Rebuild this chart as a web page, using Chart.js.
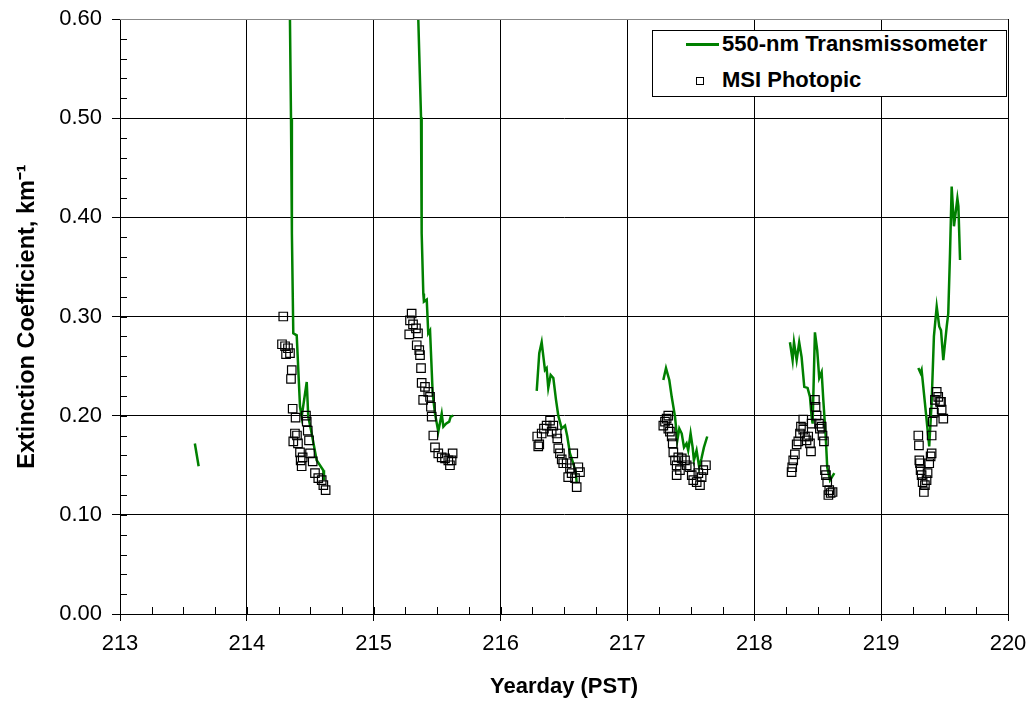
<!DOCTYPE html>
<html>
<head>
<meta charset="utf-8">
<title>Extinction Coefficient</title>
<script src="https://cdn.jsdelivr.net/npm/chart.js@4.4.1/dist/chart.umd.min.js"></script>
<style>
  body { margin: 0; background: #fff; }
  #wrap { position: relative; width: 1033px; height: 702px; }
  #legend {
    position: absolute; left: 652px; top: 30px; width: 355px; height: 67px;
    box-sizing: border-box; border: 1px solid #000; background: #fff;
    font: bold 22px 'Liberation Sans', Arial, sans-serif; color: #000;
  }
  #legend .row { position: absolute; left: 0; height: 26px; line-height: 26px; }
  #legend .txt { position: absolute; left: 69px; white-space: nowrap; }
  #legend .line { position: absolute; left: 33px; top: 12px; width: 33px; height: 3px; background: #008000; }
  #legend .sq { position: absolute; left: 43px; top: 10px; width: 6px; height: 6px; border: 1.3px solid #000; }
</style>
</head>
<body>
<div id="wrap">
  <canvas id="chart" width="1033" height="702"></canvas>
  <div id="legend">
    <div class="row" style="top:0px"><span class="line"></span><span class="txt" id="lab0"></span></div>
    <div class="row" style="top:36px"><span class="sq"></span><span class="txt" id="lab1"></span></div>
  </div>
</div>
<script>
const seriesNames = ["550-nm Transmissometer", "MSI Photopic"];

// 550-nm transmissometer, null marks a gap between daily runs
const transDay = [
  213.59, 213.62,
  213.9,
  214.338, 214.348, 214.355, 214.366, 214.393, 214.419, 214.432, 214.472, 214.484, 214.511, 214.55, 214.602, 214.608,
  214.9,
  215.347, 215.373, 215.378, 215.391, 215.396, 215.418, 215.43, 215.444, 215.465, 215.483, 215.509, 215.536, 215.549, 215.57, 215.595, 215.607, 215.627,
  215.9,
  216.285, 216.305, 216.324, 216.35, 216.363, 216.376, 216.395, 216.416, 216.437, 216.455, 216.482, 216.508, 216.526, 216.547, 216.573, 216.594, 216.6,
  216.9,
  217.283, 217.304, 217.33, 217.349, 217.375, 217.393, 217.409, 217.428, 217.446, 217.466, 217.479, 217.498, 217.514, 217.524, 217.545, 217.566, 217.584, 217.603, 217.629,
  217.9,
  218.281, 218.302, 218.313, 218.334, 218.354, 218.373, 218.394, 218.42, 218.439, 218.452, 218.46, 218.478, 218.496, 218.512, 218.531, 218.544, 218.563, 218.575, 218.597, 218.631,
  218.9,
  219.293, 219.311, 219.319, 219.345, 219.379, 219.398, 219.416, 219.438, 219.458, 219.472, 219.49, 219.517, 219.529, 219.543, 219.556, 219.574, 219.601, 219.609, 219.622
];
const transExt = [
  0.172, 0.149,
  null,
  0.62, 0.50, 0.384, 0.283, 0.281, 0.209, 0.199, 0.234, 0.199, 0.182, 0.155, 0.145, 0.135,
  null,
  0.62, 0.501, 0.384, 0.323, 0.315, 0.317, 0.283, 0.286, 0.222, 0.202, 0.184, 0.202, 0.189, 0.192, 0.194, 0.199, 0.200,
  null,
  0.225, 0.263, 0.274, 0.246, 0.248, 0.228, 0.241, 0.238, 0.216, 0.200, 0.187, 0.190, 0.179, 0.162, 0.152, 0.142, 0.132,
  null,
  0.236, 0.248, 0.236, 0.219, 0.199, 0.175, 0.187, 0.182, 0.168, 0.172, 0.165, 0.182, 0.168, 0.155, 0.165, 0.148, 0.157, 0.168, 0.179,
  null,
  0.274, 0.256, 0.274, 0.256, 0.274, 0.259, 0.229, 0.228, 0.219, 0.199, 0.192, 0.284, 0.266, 0.238, 0.244, 0.216, 0.179, 0.148, 0.135, 0.142,
  null,
  0.248, 0.243, 0.246, 0.213, 0.169, 0.213, 0.280, 0.310, 0.290, 0.286, 0.256, 0.290, 0.303, 0.364, 0.431, 0.391, 0.419, 0.411, 0.357
];

// MSI photopic
const msiDay = [
  214.287, 214.277, 214.301, 214.324, 214.340, 214.309, 214.354, 214.348, 214.361, 214.384, 214.379, 214.366, 214.403, 214.419,
  214.424, 214.432, 214.466, 214.472, 214.48, 214.49, 214.498, 214.519, 214.537, 214.563, 214.59, 214.603, 214.621, 214.395, 214.44,
  215.299, 215.286, 215.31, 215.333, 215.349, 215.28, 215.339, 215.359, 215.365, 215.373, 215.378, 215.404, 215.43, 215.444,
  215.39, 215.451, 215.457, 215.47, 215.483, 215.509, 215.536, 215.562, 215.588, 215.601, 215.622, 215.614,
  216.297, 216.305, 216.289, 216.324, 216.342, 216.363, 216.39, 216.416, 216.403, 216.442, 216.447, 216.455, 216.468, 216.482,
  216.494, 216.521, 216.547, 216.573, 216.56, 216.587, 216.613, 216.626, 216.6, 216.533,
  217.322, 217.309, 217.296, 217.283, 217.322, 217.335, 217.349, 217.357, 217.362, 217.375, 217.388, 217.401, 217.428, 217.414,
  217.388, 217.454, 217.467, 217.493, 217.507, 217.519, 217.546, 217.572, 217.585, 217.598, 217.619, 217.559,
  218.294, 218.299, 218.307, 218.32, 218.334, 218.347, 218.36, 218.368, 218.386, 218.386, 218.399, 218.412, 218.425, 218.439,
  218.447, 218.452, 218.478, 218.483, 218.491, 218.51, 218.517, 218.531, 218.538, 218.549, 218.557, 218.565, 218.575, 218.591,
  218.602, 218.617, 218.584,
  219.293, 219.298, 219.301, 219.306, 219.311, 219.319, 219.327, 219.337, 219.345, 219.358, 219.366, 219.379, 219.39, 219.398,
  219.398, 219.406, 219.416, 219.424, 219.438, 219.45, 219.464, 219.477, 219.49, 219.472
];
const msiExt = [
  0.300, 0.272, 0.270, 0.268, 0.263, 0.262, 0.246, 0.237, 0.207, 0.198, 0.182, 0.174, 0.172, 0.163,
  0.155, 0.149, 0.200, 0.194, 0.185, 0.175, 0.162, 0.154, 0.142, 0.137, 0.135, 0.130, 0.125, 0.180, 0.158,
  0.303, 0.296, 0.292, 0.288, 0.283, 0.282, 0.271, 0.266, 0.261, 0.248, 0.233, 0.229, 0.224, 0.219,
  0.216, 0.209, 0.199, 0.180, 0.168, 0.162, 0.158, 0.157, 0.155, 0.150, 0.162, 0.155,
  0.169, 0.171, 0.179, 0.182, 0.187, 0.190, 0.195, 0.190, 0.184, 0.182, 0.177, 0.167, 0.162, 0.156,
  0.152, 0.152, 0.147, 0.162, 0.142, 0.137, 0.148, 0.143, 0.128, 0.138,
  0.200, 0.197, 0.194, 0.190, 0.187, 0.184, 0.179, 0.172, 0.163, 0.155, 0.150, 0.158, 0.157, 0.145,
  0.140, 0.155, 0.150, 0.148, 0.140, 0.135, 0.133, 0.130, 0.138, 0.145, 0.150, 0.142,
  0.143, 0.148, 0.155, 0.161, 0.171, 0.174, 0.182, 0.189, 0.196, 0.186, 0.179, 0.175, 0.179, 0.172,
  0.164, 0.192, 0.216, 0.209, 0.200, 0.192, 0.187, 0.189, 0.180, 0.174, 0.145, 0.140, 0.133, 0.125,
  0.122, 0.123, 0.120,
  0.180, 0.170, 0.155, 0.152, 0.145, 0.140, 0.133, 0.123, 0.130, 0.135, 0.142, 0.152, 0.159, 0.162,
  0.180, 0.194, 0.203, 0.216, 0.224, 0.219, 0.214, 0.206, 0.197, 0.214
];

const xMin = 213, xMax = 220, xStep = 0.25;
const yMin = 0, yMax = 0.6, yStep = 0.02;

document.getElementById("lab0").textContent = seriesNames[0];
document.getElementById("lab1").textContent = seriesNames[1];

Chart.defaults.font.family = "'Liberation Sans', Arial, sans-serif";
Chart.defaults.color = "#000";

const isWhole = v => Math.abs(v - Math.round(v)) < 1e-6;
const isTenth = v => Math.abs(v * 10 - Math.round(v * 10)) < 1e-6;

// small inside tick marks + grey plot frame on top
const frame = {
  id: "frame",
  afterDatasetsDraw(chart) {
    const { ctx, chartArea: a, scales: { x, y } } = chart;
    ctx.save();
    ctx.strokeStyle = "#000";
    ctx.lineWidth = 1;
    ctx.beginPath();
    x.ticks.forEach(t => {
      const px = Math.round(x.getPixelForValue(t.value)) + 0.5;
      ctx.moveTo(px, a.bottom);
      ctx.lineTo(px, a.bottom - 7);
    });
    y.ticks.forEach(t => {
      const py = Math.round(y.getPixelForValue(t.value)) + 0.5;
      ctx.moveTo(a.left, py);
      ctx.lineTo(a.left + 7, py);
    });
    ctx.stroke();
    ctx.strokeStyle = "#888";
    ctx.beginPath();
    ctx.moveTo(a.left, Math.round(a.top) + 0.5);
    ctx.lineTo(a.right, Math.round(a.top) + 0.5);
    ctx.stroke();
    ctx.restore();
  }
};

new Chart(document.getElementById("chart"), {
  type: "scatter",
  data: {
    datasets: [
      {
        label: seriesNames[0],
        data: transDay.map((d, i) => ({ x: d, y: transExt[i] })),
        showLine: true,
        spanGaps: false,
        borderColor: "#008000",
        borderWidth: 2.5,
        pointRadius: 0,
        tension: 0,
        order: 1
      },
      {
        label: seriesNames[1],
        data: msiDay.map((d, i) => ({ x: d, y: msiExt[i] })),
        showLine: false,
        pointStyle: "rect",
        pointRadius: 6,
        borderColor: "#000",
        borderWidth: 1.2,
        backgroundColor: "rgba(255,255,255,0)",
        order: 0
      }
    ]
  },
  options: {
    responsive: false,
    animation: false,
    layout: { padding: { left: 0, right: 25, top: 19, bottom: 0 } },
    plugins: { legend: { display: false }, tooltip: { enabled: false } },
    scales: {
      x: {
        type: "linear",
        min: xMin,
        max: xMax,
        afterFit: s => { s.height = 88; s.paddingLeft = 0; s.paddingRight = 0; },
        ticks: {
          stepSize: xStep,
          autoSkip: false,
          maxRotation: 0,
          padding: 10,
          font: { size: 22 },
          callback: v => isWhole(v) ? String(Math.round(v)) : ""
        },
        grid: {
          color: c => isWhole(c.tick.value) ? "#000" : "rgba(0,0,0,0)",
          tickColor: c => isWhole(c.tick.value) ? "#000" : "rgba(0,0,0,0)",
          tickLength: 7,
          lineWidth: 1
        },
        border: { color: "#000", width: 1 },
        title: {
          display: true,
          text: "Yearday (PST)",
          font: { size: 22, weight: "bold" },
          padding: { top: 0, bottom: 2 }
        }
      },
      y: {
        min: yMin,
        max: yMax,
        afterFit: s => { s.width = 120; s.paddingTop = 0; s.paddingBottom = 0; },
        ticks: {
          stepSize: yStep,
          autoSkip: false,
          padding: 10,
          font: { size: 22 },
          callback: v => isTenth(v) ? v.toFixed(2) : ""
        },
        grid: {
          color: c => isTenth(c.tick.value) ? (c.tick.value > 0.59 ? "#888" : "#000") : "rgba(0,0,0,0)",
          tickColor: c => isTenth(c.tick.value) ? "#000" : "rgba(0,0,0,0)",
          tickLength: 8,
          lineWidth: 1
        },
        border: { color: "#000", width: 1 },
        title: {
          display: true,
          text: "Extinction Coefficient, km\u207B\u00B9",
          font: { size: 23.5, weight: "bold" },
          padding: { top: 13, bottom: 0 }
        }
      }
    }
  },
  plugins: [frame]
});
</script>
</body>
</html>
